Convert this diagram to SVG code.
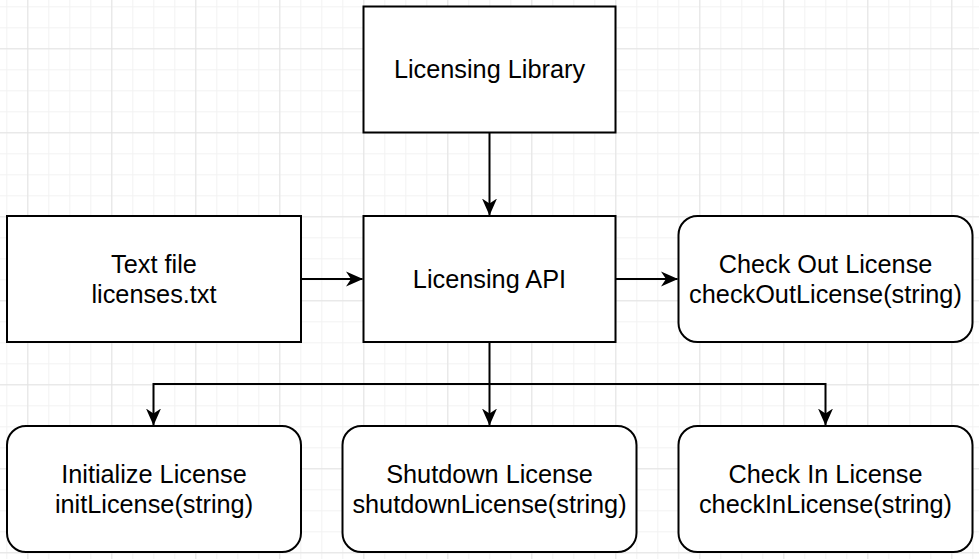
<svg xmlns="http://www.w3.org/2000/svg" width="979" height="559" viewBox="0 0 979 559">
<style>
.box{fill:#fff;stroke:#000;stroke-width:2}
.lbl{font-family:"Liberation Sans",Arial,sans-serif;font-size:25.3px;fill:#000;text-anchor:middle}
.edge{fill:none;stroke:#000;stroke-width:2}
</style>
<defs>
<pattern id="minor" x="6.3" y="6.3" width="21" height="21" patternUnits="userSpaceOnUse">
<path d="M0 0.5H21M0.5 0V21" fill="none" stroke="#f2f2f2" stroke-width="1"/>
</pattern>
<pattern id="major" x="27.3" y="48.3" width="84" height="84" patternUnits="userSpaceOnUse">
<path d="M0 0.5H84M0.5 0V84" fill="none" stroke="#e3e3e3" stroke-width="1"/>
</pattern>
<marker id="arr" viewBox="0 0 17 16" refX="16.5" refY="8" markerWidth="17" markerHeight="16" markerUnits="userSpaceOnUse" orient="auto">
<path d="M0 0.5L17 8L0 15.5L5 8Z" fill="#000"/>
</marker>
</defs>
<rect width="979" height="559" fill="#fff"/>
<rect width="979" height="559" fill="url(#minor)"/>
<rect width="979" height="559" fill="url(#major)"/>
<g id="connectors">
<path class="edge" d="M489.5 132V215" marker-end="url(#arr)"/>
<path class="edge" d="M301 279H362.5" marker-end="url(#arr)"/>
<path class="edge" d="M615.5 279H677.5" marker-end="url(#arr)"/>
<path class="edge" d="M489.5 342V425" marker-end="url(#arr)"/>
<path class="edge" d="M489.5 384H153.5V425" marker-end="url(#arr)"/>
<path class="edge" d="M489.5 384H825.5V425" marker-end="url(#arr)"/>
</g>
<g id="licensing-library">
<rect class="box" x="363.5" y="6.5" width="252" height="126"/>
<text class="lbl" x="489.5" y="78">Licensing Library</text>
</g>
<g id="text-file">
<rect class="box" x="7" y="216" width="294" height="126"/>
<text class="lbl" x="154" y="273">Text file</text>
<text class="lbl" x="154" y="303">licenses.txt</text>
</g>
<g id="licensing-api">
<rect class="box" x="363.5" y="216" width="252" height="126"/>
<text class="lbl" x="489.5" y="288">Licensing API</text>
</g>
<g id="check-out">
<rect class="box" x="678.5" y="216" width="294" height="126" rx="19" ry="19"/>
<text class="lbl" x="825.5" y="273">Check Out License</text>
<text class="lbl" x="825.5" y="303">checkOutLicense(string)</text>
</g>
<g id="initialize">
<rect class="box" x="7" y="426" width="294" height="126" rx="19" ry="19"/>
<text class="lbl" x="154" y="483">Initialize License</text>
<text class="lbl" x="154" y="513">initLicense(string)</text>
</g>
<g id="shutdown">
<rect class="box" x="342.5" y="426" width="294" height="126" rx="19" ry="19"/>
<text class="lbl" x="489.5" y="483">Shutdown License</text>
<text class="lbl" x="489.5" y="513">shutdownLicense(string)</text>
</g>
<g id="check-in">
<rect class="box" x="678.5" y="426" width="294" height="126" rx="19" ry="19"/>
<text class="lbl" x="825.5" y="483">Check In License</text>
<text class="lbl" x="825.5" y="513">checkInLicense(string)</text>
</g>
</svg>
